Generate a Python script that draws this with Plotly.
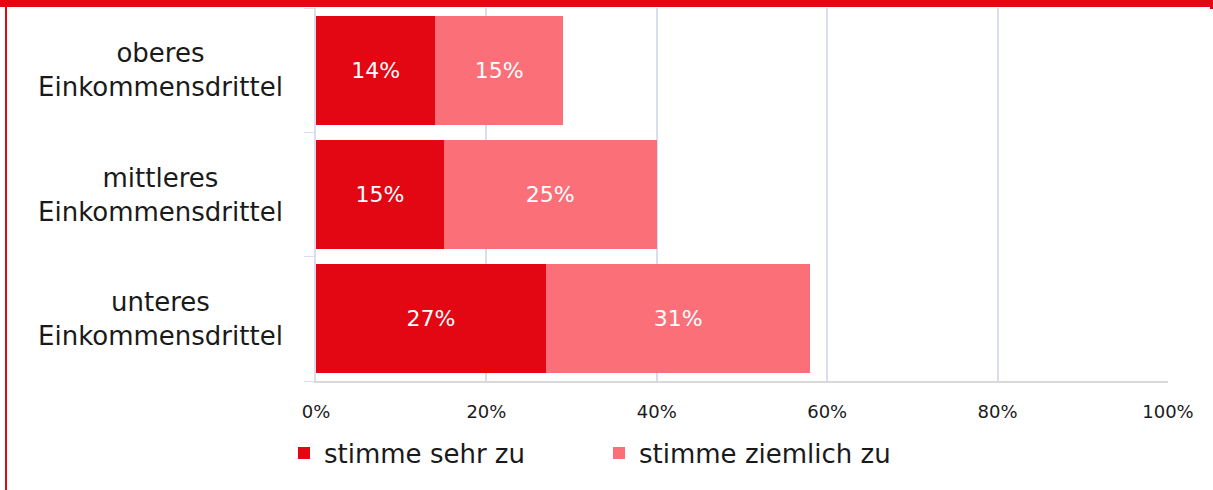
import plotly.graph_objects as go

# data
categories = ["oberes Einkommensdrittel", "mittleres Einkommensdrittel", "unteres Einkommensdrittel"]
cat_labels = ["oberes<br>Einkommensdrittel", "mittleres<br>Einkommensdrittel", "unteres<br>Einkommensdrittel"]
sehr_zu = [14, 15, 27]
ziemlich_zu = [15, 25, 31]
series_names = ["stimme sehr zu", "stimme ziemlich zu"]
tick_vals = [0, 20, 40, 60, 80, 100]
tick_text = ["0%", "20%", "40%", "60%", "80%", "100%"]

FONT = "DejaVu Sans"
DARK_RED = "#E30613"
LIGHT_RED = "#FB6F78"
GRID = "#D9DDF0"

# plot area in pixels
W, H = 1213, 490
L, R, T, B = 316, 45, 8, 109
pw, ph = W - L - R, H - T - B


def px_x(px):
    return (px - L) / pw


def px_y(py):
    return (H - B - py) / ph


fig = go.Figure()

for name, vals, color in [(series_names[0], sehr_zu, DARK_RED),
                          (series_names[1], ziemlich_zu, LIGHT_RED)]:
    fig.add_trace(go.Bar(
        y=categories,
        x=vals,
        name=name,
        orientation='h',
        marker=dict(color=color, line=dict(width=0)),
        text=[f"{v}%" for v in vals],
        textposition='inside',
        insidetextanchor='middle',
        textfont=dict(family=FONT, size=22, color='white'),
        hoverinfo='skip',
    ))

# centred category labels
for cat, lab in zip(categories, cat_labels):
    fig.add_annotation(
        x=px_x(160), xref='paper', y=cat, yref='y',
        text=lab, showarrow=False, xanchor='center', yanchor='middle',
        align='center', font=dict(family=FONT, size=26, color='#1a1a1a'),
    )

# red frame
shapes = [
    dict(type='rect', xref='paper', yref='paper', x0=px_x(0), x1=px_x(1211),
         y0=px_y(7), y1=px_y(0), fillcolor=DARK_RED, line=dict(width=0), layer='above'),
    dict(type='rect', xref='paper', yref='paper', x0=px_x(5), x1=px_x(7),
         y0=px_y(490), y1=px_y(0), fillcolor=DARK_RED, line=dict(width=0), layer='above'),
    dict(type='rect', xref='paper', yref='paper', x0=px_x(1210), x1=px_x(1213),
         y0=px_y(9), y1=px_y(0), fillcolor=DARK_RED, line=dict(width=0), layer='above'),
]

fig.update_layout(
    barmode='stack',
    bargap=0.125,
    width=W, height=H,
    margin=dict(l=L, r=R, t=T, b=B),
    paper_bgcolor='white',
    plot_bgcolor='white',
    font=dict(family=FONT, color='#1a1a1a'),
    shapes=shapes,
    xaxis=dict(
        range=[0, 100],
        tickvals=tick_vals,
        ticktext=tick_text,
        tickfont=dict(size=18, color='#1a1a1a'),
        showgrid=True,
        gridcolor=GRID,
        gridwidth=1.5,
        zeroline=False,
        showline=True,
        linecolor='#D9D9D9',
        linewidth=1.5,
        ticks='outside',
        ticklen=0,
        ticklabelstandoff=14,
        fixedrange=True,
    ),
    yaxis=dict(
        categoryorder='array',
        categoryarray=categories[::-1],
        showticklabels=False,
        showline=True,
        linecolor=GRID,
        linewidth=1.5,
        ticks='outside',
        tickson='boundaries',
        ticklen=10,
        tickcolor=GRID,
        showgrid=False,
        fixedrange=True,
    ),
    legend=dict(
        orientation='h',
        x=px_x(284), xanchor='left',
        y=px_y(453), yanchor='middle',
        font=dict(size=26, color='#1a1a1a'),
        entrywidth=270,
        traceorder='normal',
        bgcolor='rgba(0,0,0,0)',
    ),
    showlegend=True,
)

fig.write_html("out.html", config={'displayModeBar': False},
               post_script="document.body.style.margin='0';")
